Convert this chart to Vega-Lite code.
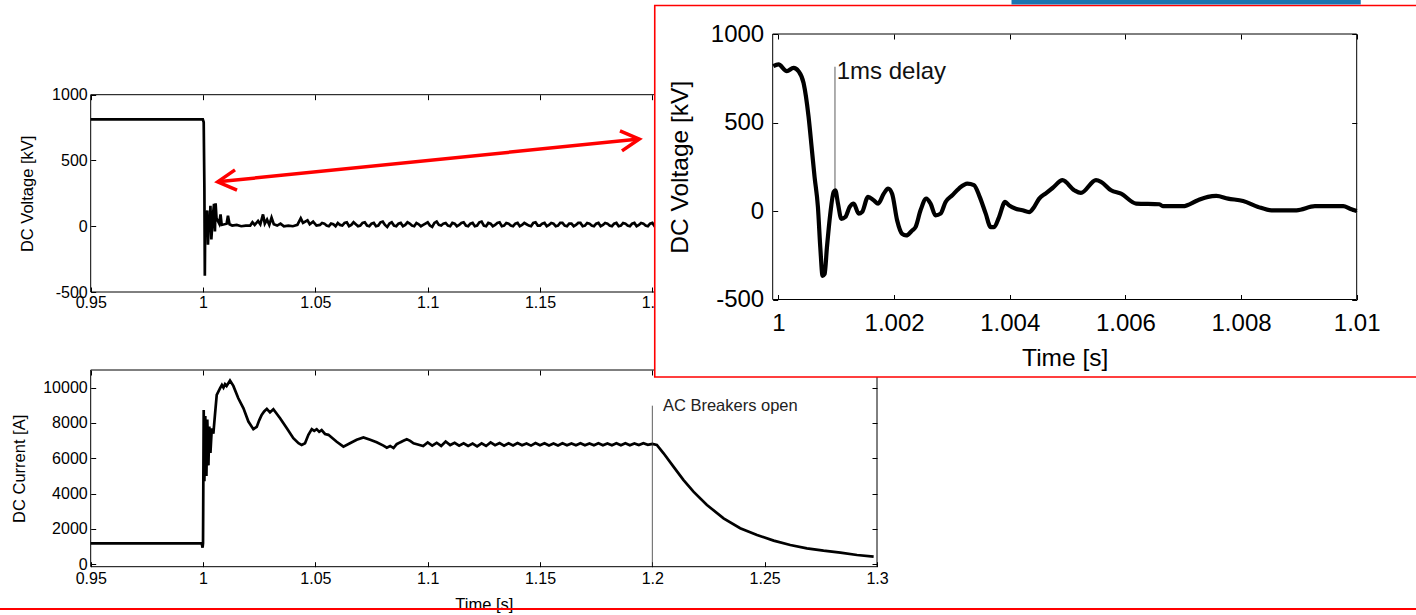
{
  "$schema": "https://vega.github.io/schema/vega-lite/v6.json",
  "width": 1416,
  "height": 615,
  "padding": 0,
  "autosize": {"type": "none"},
  "background": "white",
  "config": {
    "view": {"stroke": null},
    "axis": {
      "labelFont": "Liberation Sans",
      "titleFont": "Liberation Sans",
      "labelColor": "black",
      "titleColor": "black",
      "tickColor": "black",
      "titleFontWeight": "normal",
      "grid": false,
      "domain": false,
      "labelOverlap": false,
      "labelFlush": false,
      "tickSize": -5,
      "tickWidth": 1
    },
    "text": {"font": "Liberation Sans"}
  },
  "datasets": {
    "voltage": [
      {"t": 0.95, "v": 812}, {"t": 0.9999, "v": 812}, {"t": 1.0003, "v": 790}, {"t": 1.0006, "v": 300},
      {"t": 1.0008, "v": -376}, {"t": 1.001, "v": 110}, {"t": 1.0013, "v": -40}, {"t": 1.0016, "v": 80},
      {"t": 1.0019, "v": 120}, {"t": 1.0022, "v": -140}, {"t": 1.0026, "v": 60}, {"t": 1.0029, "v": -30},
      {"t": 1.0033, "v": 155}, {"t": 1.0037, "v": -100}, {"t": 1.0041, "v": 10}, {"t": 1.0045, "v": 100},
      {"t": 1.0049, "v": 170}, {"t": 1.0053, "v": -40}, {"t": 1.0056, "v": 175}, {"t": 1.006, "v": 60},
      {"t": 1.0066, "v": 40}, {"t": 1.0072, "v": 20}, {"t": 1.0078, "v": 90}, {"t": 1.0083, "v": 10},
      {"t": 1.0095, "v": 15}, {"t": 1.0105, "v": 20}, {"t": 1.0111, "v": 80}, {"t": 1.0118, "v": 15},
      {"t": 1.013, "v": 5}, {"t": 1.015, "v": 10}, {"t": 1.017, "v": 0}, {"t": 1.019, "v": 5},
      {"t": 1.021, "v": 5}, {"t": 1.022, "v": 30}, {"t": 1.023, "v": 10}, {"t": 1.0245, "v": 40},
      {"t": 1.0255, "v": 15}, {"t": 1.0267, "v": 90}, {"t": 1.0275, "v": 20}, {"t": 1.0285, "v": 50},
      {"t": 1.0295, "v": 10}, {"t": 1.0305, "v": 65}, {"t": 1.0315, "v": 15}, {"t": 1.033, "v": 5},
      {"t": 1.0345, "v": 20}, {"t": 1.036, "v": 0}, {"t": 1.038, "v": 5}, {"t": 1.04, "v": 0},
      {"t": 1.042, "v": 10}, {"t": 1.0435, "v": 60}, {"t": 1.0445, "v": 25}, {"t": 1.0465, "v": 45},
      {"t": 1.0475, "v": 15}, {"t": 1.049, "v": 35}, {"t": 1.0505, "v": 5},
      {"t": 1.052, "v": 10}, {"t": 1.053, "v": 25}, {"t": 1.054, "v": 20}, {"t": 1.055, "v": 5}, {"t": 1.056, "v": 0}, {"t": 1.057, "v": 20}, {"t": 1.058, "v": 15},
      {"t": 1.059, "v": 0}, {"t": 1.06, "v": 25}, {"t": 1.061, "v": 10}, {"t": 1.062, "v": 5}, {"t": 1.063, "v": 25}, {"t": 1.064, "v": 30}, {"t": 1.065, "v": 0}, {"t": 1.066, "v": 10},
      {"t": 1.067, "v": 30}, {"t": 1.068, "v": 15}, {"t": 1.069, "v": 0}, {"t": 1.07, "v": 5}, {"t": 1.071, "v": 25}, {"t": 1.072, "v": 30}, {"t": 1.073, "v": 5}, {"t": 1.074, "v": 0},
      {"t": 1.075, "v": 20}, {"t": 1.076, "v": 25}, {"t": 1.077, "v": 0}, {"t": 1.078, "v": 5}, {"t": 1.079, "v": 30}, {"t": 1.08, "v": 35}, {"t": 1.081, "v": 10}, {"t": 1.082, "v": -5},
      {"t": 1.083, "v": 20}, {"t": 1.084, "v": 30}, {"t": 1.085, "v": 5}, {"t": 1.086, "v": 0}, {"t": 1.087, "v": 20}, {"t": 1.088, "v": 25}, {"t": 1.089, "v": 0}, {"t": 1.09, "v": 10},
      {"t": 1.091, "v": 30}, {"t": 1.092, "v": 20}, {"t": 1.093, "v": 5}, {"t": 1.094, "v": 0}, {"t": 1.095, "v": 25}, {"t": 1.096, "v": 15}, {"t": 1.097, "v": 0}, {"t": 1.098, "v": 10},
      {"t": 1.099, "v": 20}, {"t": 1.1, "v": 30}, {"t": 1.101, "v": 5}, {"t": 1.102, "v": -5}, {"t": 1.103, "v": 25}, {"t": 1.104, "v": 35}, {"t": 1.105, "v": 10}, {"t": 1.106, "v": 5},
      {"t": 1.107, "v": 20}, {"t": 1.108, "v": 25}, {"t": 1.109, "v": 5}, {"t": 1.11, "v": 0}, {"t": 1.111, "v": 25}, {"t": 1.112, "v": 20}, {"t": 1.113, "v": 0}, {"t": 1.114, "v": 10},
      {"t": 1.115, "v": 25}, {"t": 1.116, "v": 30}, {"t": 1.117, "v": 5}, {"t": 1.118, "v": 0}, {"t": 1.119, "v": 20}, {"t": 1.12, "v": 25}, {"t": 1.121, "v": 0}, {"t": 1.122, "v": 5},
      {"t": 1.123, "v": 30}, {"t": 1.124, "v": 35}, {"t": 1.125, "v": 5}, {"t": 1.126, "v": 0}, {"t": 1.127, "v": 25}, {"t": 1.128, "v": 20}, {"t": 1.129, "v": 0}, {"t": 1.13, "v": 10},
      {"t": 1.131, "v": 25}, {"t": 1.132, "v": 30}, {"t": 1.133, "v": 0}, {"t": 1.134, "v": 5}, {"t": 1.135, "v": 25}, {"t": 1.136, "v": 20}, {"t": 1.137, "v": 5}, {"t": 1.138, "v": 0},
      {"t": 1.139, "v": 20}, {"t": 1.14, "v": 25}, {"t": 1.141, "v": 0}, {"t": 1.142, "v": 10}, {"t": 1.143, "v": 25}, {"t": 1.144, "v": 15}, {"t": 1.145, "v": 5}, {"t": 1.146, "v": 0},
      {"t": 1.147, "v": 25}, {"t": 1.148, "v": 30}, {"t": 1.149, "v": 5}, {"t": 1.15, "v": 5}, {"t": 1.151, "v": 20}, {"t": 1.152, "v": 25}, {"t": 1.153, "v": 0}, {"t": 1.154, "v": 10},
      {"t": 1.155, "v": 25}, {"t": 1.156, "v": 20}, {"t": 1.157, "v": 0}, {"t": 1.158, "v": 5}, {"t": 1.159, "v": 25}, {"t": 1.16, "v": 25}, {"t": 1.161, "v": 5}, {"t": 1.162, "v": 0},
      {"t": 1.163, "v": 20}, {"t": 1.164, "v": 20}, {"t": 1.165, "v": 0}, {"t": 1.166, "v": 10}, {"t": 1.167, "v": 25}, {"t": 1.168, "v": 25}, {"t": 1.169, "v": 0}, {"t": 1.17, "v": 5},
      {"t": 1.171, "v": 25}, {"t": 1.172, "v": 20}, {"t": 1.173, "v": 5}, {"t": 1.174, "v": 0}, {"t": 1.175, "v": 20}, {"t": 1.176, "v": 25}, {"t": 1.177, "v": 0}, {"t": 1.178, "v": 10},
      {"t": 1.179, "v": 25}, {"t": 1.18, "v": 20}, {"t": 1.181, "v": 5}, {"t": 1.182, "v": 0}, {"t": 1.183, "v": 20}, {"t": 1.184, "v": 25}, {"t": 1.185, "v": 0}, {"t": 1.186, "v": 5},
      {"t": 1.187, "v": 25}, {"t": 1.188, "v": 20}, {"t": 1.189, "v": 5}, {"t": 1.19, "v": 0}, {"t": 1.191, "v": 20}, {"t": 1.192, "v": 25}, {"t": 1.193, "v": 0}, {"t": 1.194, "v": 10},
      {"t": 1.195, "v": 25}, {"t": 1.196, "v": 20}, {"t": 1.197, "v": 5}, {"t": 1.198, "v": 0}, {"t": 1.199, "v": 20}, {"t": 1.2, "v": 25}, {"t": 1.201, "v": 0}, {"t": 1.202, "v": 5},
      {"t": 1.204, "v": 20}, {"t": 1.206, "v": 10}
    ],
    "current": [
      {"t": 0.95, "i": 1190}, {"t": 0.9994, "i": 1190}, {"t": 0.9998, "i": 940}, {"t": 1.0, "i": 1200},
      {"t": 1.0003, "i": 8740}, {"t": 1.0006, "i": 4700}, {"t": 1.001, "i": 8400}, {"t": 1.0015, "i": 5000},
      {"t": 1.0019, "i": 8200}, {"t": 1.0024, "i": 5600}, {"t": 1.0028, "i": 7800}, {"t": 1.0033, "i": 6300},
      {"t": 1.0039, "i": 7700}, {"t": 1.0046, "i": 7400}, {"t": 1.0053, "i": 8450}, {"t": 1.0061, "i": 9590},
      {"t": 1.0076, "i": 9970}, {"t": 1.0084, "i": 10150}, {"t": 1.0091, "i": 10000}, {"t": 1.0098, "i": 10200}, {"t": 1.0105, "i": 10100}, {"t": 1.012, "i": 10400},
      {"t": 1.0135, "i": 10100}, {"t": 1.0157, "i": 9400}, {"t": 1.018, "i": 8830}, {"t": 1.0202, "i": 8080},
      {"t": 1.0224, "i": 7650}, {"t": 1.0239, "i": 7780}, {"t": 1.025, "i": 8150}, {"t": 1.0261, "i": 8460}, {"t": 1.0272, "i": 8650}, {"t": 1.0284, "i": 8800}, {"t": 1.0298, "i": 8600},
      {"t": 1.0313, "i": 8780}, {"t": 1.0343, "i": 8270}, {"t": 1.0373, "i": 7700}, {"t": 1.0402, "i": 7140},
      {"t": 1.0425, "i": 6855}, {"t": 1.0439, "i": 6760}, {"t": 1.0454, "i": 6850}, {"t": 1.0469, "i": 7330},
      {"t": 1.0484, "i": 7650}, {"t": 1.0495, "i": 7550}, {"t": 1.0506, "i": 7650}, {"t": 1.0517, "i": 7500}, {"t": 1.0528, "i": 7600}, {"t": 1.0543, "i": 7380}, {"t": 1.0558, "i": 7330},
      {"t": 1.0595, "i": 6940}, {"t": 1.0625, "i": 6660}, {"t": 1.0654, "i": 6850}, {"t": 1.0684, "i": 7050},
      {"t": 1.0714, "i": 7180}, {"t": 1.0744, "i": 7050}, {"t": 1.0773, "i": 6910}, {"t": 1.0803, "i": 6720},
      {"t": 1.0818, "i": 6600}, {"t": 1.0833, "i": 6700}, {"t": 1.0848, "i": 6580}, {"t": 1.0862, "i": 6800},
      {"t": 1.0877, "i": 6900}, {"t": 1.0892, "i": 6990}, {"t": 1.0907, "i": 7080}, {"t": 1.0922, "i": 6990},
      {"t": 1.0937, "i": 6850}, {"t": 1.0952, "i": 6800},
      {"t": 1.098, "i": 6700}, {"t": 1.1, "i": 6900}, {"t": 1.102, "i": 6720}, {"t": 1.104, "i": 6880},
      {"t": 1.106, "i": 6700}, {"t": 1.108, "i": 6950}, {"t": 1.11, "i": 6750}, {"t": 1.112, "i": 6880},
      {"t": 1.114, "i": 6720}, {"t": 1.116, "i": 6850}, {"t": 1.118, "i": 6700}, {"t": 1.12, "i": 6830},
      {"t": 1.122, "i": 6680}, {"t": 1.124, "i": 6850}, {"t": 1.126, "i": 6700}, {"t": 1.128, "i": 6900},
      {"t": 1.13, "i": 6740}, {"t": 1.132, "i": 6860}, {"t": 1.134, "i": 6720}, {"t": 1.136, "i": 6850},
      {"t": 1.138, "i": 6730}, {"t": 1.14, "i": 6870}, {"t": 1.142, "i": 6740}, {"t": 1.144, "i": 6840},
      {"t": 1.146, "i": 6720}, {"t": 1.148, "i": 6860}, {"t": 1.15, "i": 6740}, {"t": 1.152, "i": 6850},
      {"t": 1.154, "i": 6730}, {"t": 1.156, "i": 6840}, {"t": 1.158, "i": 6730}, {"t": 1.16, "i": 6850},
      {"t": 1.162, "i": 6740}, {"t": 1.164, "i": 6840}, {"t": 1.166, "i": 6740}, {"t": 1.168, "i": 6850},
      {"t": 1.17, "i": 6740}, {"t": 1.172, "i": 6840}, {"t": 1.174, "i": 6740}, {"t": 1.176, "i": 6850},
      {"t": 1.178, "i": 6740}, {"t": 1.18, "i": 6840}, {"t": 1.182, "i": 6740}, {"t": 1.184, "i": 6850},
      {"t": 1.186, "i": 6740}, {"t": 1.188, "i": 6850}, {"t": 1.19, "i": 6740}, {"t": 1.192, "i": 6840},
      {"t": 1.194, "i": 6750}, {"t": 1.196, "i": 6850}, {"t": 1.198, "i": 6760}, {"t": 1.2, "i": 6820},
      {"t": 1.202, "i": 6760}, {"t": 1.205, "i": 6285}, {"t": 1.2094, "i": 5530}, {"t": 1.2139, "i": 4770},
      {"t": 1.2183, "i": 4110}, {"t": 1.2243, "i": 3360}, {"t": 1.2317, "i": 2600}, {"t": 1.2391, "i": 2040},
      {"t": 1.2466, "i": 1660}, {"t": 1.254, "i": 1340}, {"t": 1.2614, "i": 1090}, {"t": 1.2688, "i": 905},
      {"t": 1.2762, "i": 770}, {"t": 1.2837, "i": 660}, {"t": 1.2911, "i": 527}, {"t": 1.2985, "i": 430}
    ],
    "zoom": [
      {"t": 0.99991, "v": 818}, {"t": 1.0, "v": 828}, {"t": 1.000145, "v": 790}, {"t": 1.00026, "v": 809},
      {"t": 1.000347, "v": 790}, {"t": 1.000434, "v": 723}, {"t": 1.00052, "v": 534}, {"t": 1.000578, "v": 345},
      {"t": 1.000624, "v": 193}, {"t": 1.000682, "v": 23}, {"t": 1.000723, "v": -205}, {"t": 1.000763, "v": -366},
      {"t": 1.000798, "v": -356}, {"t": 1.000838, "v": -205}, {"t": 1.000896, "v": -15}, {"t": 1.000954, "v": 108},
      {"t": 1.000983, "v": 117}, {"t": 1.001029, "v": 42}, {"t": 1.001087, "v": -44}, {"t": 1.001156, "v": -34},
      {"t": 1.001231, "v": 23}, {"t": 1.001301, "v": 42}, {"t": 1.001387, "v": -15}, {"t": 1.001445, "v": -6},
      {"t": 1.001549, "v": 80}, {"t": 1.001647, "v": 61}, {"t": 1.001723, "v": 42}, {"t": 1.001821, "v": 98},
      {"t": 1.001896, "v": 127}, {"t": 1.001965, "v": 98}, {"t": 1.002052, "v": -53}, {"t": 1.002139, "v": -129},
      {"t": 1.002208, "v": -138}, {"t": 1.002312, "v": -110}, {"t": 1.00237, "v": -91}, {"t": 1.002457, "v": 4},
      {"t": 1.002555, "v": 70}, {"t": 1.00263, "v": 42}, {"t": 1.002717, "v": -25}, {"t": 1.002803, "v": -15},
      {"t": 1.00289, "v": 51}, {"t": 1.003006, "v": 89}, {"t": 1.003121, "v": 127}, {"t": 1.003266, "v": 155},
      {"t": 1.00338, "v": 146}, {"t": 1.00348, "v": 80}, {"t": 1.003584, "v": -15}, {"t": 1.00367, "v": -91},
      {"t": 1.003728, "v": -91}, {"t": 1.003815, "v": -34}, {"t": 1.003919, "v": 51}, {"t": 1.003988, "v": 32},
      {"t": 1.004104, "v": 13}, {"t": 1.00422, "v": 4}, {"t": 1.004335, "v": -6}, {"t": 1.004422, "v": 23},
      {"t": 1.004509, "v": 70}, {"t": 1.004624, "v": 100}, {"t": 1.00474, "v": 130}, {"t": 1.004913, "v": 174},
      {"t": 1.005116, "v": 117}, {"t": 1.005231, "v": 102}, {"t": 1.005491, "v": 174}, {"t": 1.005578, "v": 165},
      {"t": 1.005751, "v": 117}, {"t": 1.005925, "v": 98}, {"t": 1.006185, "v": 42}, {"t": 1.00659, "v": 38},
      {"t": 1.006647, "v": 27}, {"t": 1.006994, "v": 27}, {"t": 1.007254, "v": 61}, {"t": 1.007428, "v": 80},
      {"t": 1.007572, "v": 85}, {"t": 1.007775, "v": 70}, {"t": 1.008035, "v": 57}, {"t": 1.008295, "v": 23},
      {"t": 1.008526, "v": 4}, {"t": 1.00896, "v": 4}, {"t": 1.009277, "v": 27}, {"t": 1.009769, "v": 27},
      {"t": 1.009884, "v": 13}, {"t": 1.01, "v": 0}
    ]
  },
  "layer": [
    {
      "layer": [
        {
          "data": {"name": "current"},
          "mark": {"type": "line", "color": "black", "strokeWidth": 2.7},
          "encoding": {
            "x": {"field": "t", "type": "quantitative",
              "scale": {"domain": [0.95, 1.3], "range": [90.7, 877], "nice": false, "zero": false},
              "axis": {"orient": "bottom", "offset": -48.3, "values": [0.95, 1, 1.05, 1.1, 1.15, 1.2, 1.25, 1.3],
                "labelExpr": "'' + datum.value", "labelFontSize": 16, "labelPadding": 9,
                "title": "Time [s]", "titleFontSize": 16.5, "titlePadding": 10, "zindex": 0}},
            "y": {"field": "i", "type": "quantitative",
              "scale": {"domain": [-136, 11000], "range": [566.7, 370], "nice": false, "zero": false},
              "axis": {"orient": "left", "offset": -90.7, "values": [0, 2000, 4000, 6000, 8000, 10000],
                "labelExpr": "'' + datum.value", "labelFontSize": 16, "labelPadding": 8.5,
                "title": "DC Current [A]", "titleFontSize": 16.5, "titlePadding": 15, "zindex": 0}}
          }
        },
        {
          "data": {"values": [{"t": 1.2, "i": -136, "i2": 8980}]},
          "mark": {"type": "rule", "color": "#333", "strokeWidth": 0.8},
          "encoding": {
            "x": {"field": "t", "type": "quantitative"},
            "y": {"field": "i", "type": "quantitative"},
            "y2": {"field": "i2"}
          }
        },
        {
          "data": {"values": [{"t": 1.2047, "i": 8680, "label": "AC Breakers open"}]},
          "mark": {"type": "text", "align": "left", "baseline": "alphabetic", "fontSize": 16.5, "color": "#222"},
          "encoding": {
            "x": {"field": "t", "type": "quantitative"},
            "y": {"field": "i", "type": "quantitative"},
            "text": {"field": "label"}
          }
        },
        {
          "data": {"values": [{"t": 0.9, "t2": 1.56, "i": -2531}]},
          "mark": {"type": "rule", "color": "#ff0000", "strokeWidth": 2},
          "encoding": {
            "x": {"field": "t", "type": "quantitative"},
            "x2": {"field": "t2"},
            "y": {"field": "i", "type": "quantitative"}
          }
        }
      ]
    },
    {
      "data": {"values": [{"t": 0.95, "t2": 1.3, "i": -136, "i2": 11000}]},
      "mark": {"type": "rect", "fill": "transparent", "stroke": "black", "strokeWidth": 1},
      "encoding": {
        "x": {"field": "t", "type": "quantitative",
          "scale": {"domain": [0.95, 1.3], "range": [90.7, 877], "nice": false, "zero": false},
          "axis": {"orient": "top", "offset": -370, "values": [0.95, 1, 1.05, 1.1, 1.15, 1.2, 1.25, 1.3],
            "labels": false, "title": null, "zindex": 0}},
        "x2": {"field": "t2"},
        "y": {"field": "i", "type": "quantitative",
          "scale": {"domain": [-136, 11000], "range": [566.7, 370], "nice": false, "zero": false},
          "axis": {"orient": "right", "offset": -539, "values": [0, 2000, 4000, 6000, 8000, 10000],
            "labels": false, "title": null, "zindex": 0}},
        "y2": {"field": "i2"}
      }
    },
    {
      "layer": [
        {
          "data": {"name": "voltage"},
          "mark": {"type": "line", "color": "black", "strokeWidth": 2.7},
          "encoding": {
            "x": {"field": "t", "type": "quantitative",
              "scale": {"domain": [0.95, 1.3], "range": [90.7, 877], "nice": false, "zero": false},
              "axis": {"orient": "bottom", "offset": -323, "values": [0.95, 1, 1.05, 1.1, 1.15, 1.2, 1.25, 1.3],
                "labelExpr": "'' + datum.value", "labelFontSize": 16, "labelPadding": 7,
                "title": null, "zindex": 0}},
            "y": {"field": "v", "type": "quantitative",
              "scale": {"domain": [-500, 1000], "range": [292, 94.7], "nice": false, "zero": false},
              "axis": {"orient": "left", "offset": -90.7, "values": [-500, 0, 500, 1000],
                "labelExpr": "'' + datum.value", "labelFontSize": 16, "labelPadding": 8.5,
                "title": "DC Voltage [kV]", "titleFontSize": 16.5, "titlePadding": 16.5, "zindex": 0}}
          }
        },
        {
          "data": {"values": [{"t": 1.00653, "v": 338, "t2": 1.19419, "v2": 663}]},
          "layer": [
            {
              "mark": {"type": "rule", "color": "#ff0000", "strokeWidth": 3.5},
              "encoding": {
                "x": {"field": "t", "type": "quantitative"},
                "y": {"field": "v", "type": "quantitative"},
                "x2": {"field": "t2"},
                "y2": {"field": "v2"}
              }
            },
            {
              "mark": {"type": "point", "shape": "M-1,-0.55L0,0L-1,0.55", "filled": false, "color": "#ff0000",
                "strokeWidth": 3.5, "size": 1355, "angle": 174.3, "opacity": 1},
              "encoding": {
                "x": {"field": "t", "type": "quantitative"},
                "y": {"field": "v", "type": "quantitative"}
              }
            },
            {
              "mark": {"type": "point", "shape": "M-1,-0.55L0,0L-1,0.55", "filled": false, "color": "#ff0000",
                "strokeWidth": 3.5, "size": 1355, "angle": -5.7, "opacity": 1},
              "encoding": {
                "x": {"field": "t2", "type": "quantitative"},
                "y": {"field": "v2", "type": "quantitative"}
              }
            }
          ]
        }
      ]
    },
    {
      "data": {"values": [{"t": 0.95, "t2": 1.3, "v": -500, "v2": 1000}]},
      "mark": {"type": "rect", "fill": "transparent", "stroke": "black", "strokeWidth": 1},
      "encoding": {
        "x": {"field": "t", "type": "quantitative",
          "scale": {"domain": [0.95, 1.3], "range": [90.7, 877], "nice": false, "zero": false},
          "axis": {"orient": "top", "offset": -94.7, "values": [0.95, 1, 1.05, 1.1, 1.15, 1.2, 1.25, 1.3],
            "labels": false, "title": null, "zindex": 0}},
        "x2": {"field": "t2"},
        "y": {"field": "v", "type": "quantitative",
          "scale": {"domain": [-500, 1000], "range": [292, 94.7], "nice": false, "zero": false},
          "axis": {"orient": "right", "offset": -539, "values": [-500, 0, 500, 1000],
            "labels": false, "title": null, "zindex": 0}},
        "y2": {"field": "v2"}
      }
    },
    {
      "layer": [
        {
          "data": {"values": [{"t": 0.99786, "t2": 1.01105, "v": -938, "v2": 1161}]},
          "mark": {"type": "rect", "fill": "white", "stroke": "#ff0000", "strokeWidth": 1.6},
          "encoding": {
            "x": {"field": "t", "type": "quantitative",
              "scale": {"domain": [0.9999, 1.01], "range": [772.7, 1356.7], "nice": false, "zero": false},
              "axis": {"orient": "bottom", "offset": -315.5, "values": [1, 1.002, 1.004, 1.006, 1.008, 1.01],
                "labelExpr": "'' + datum.value", "labelFontSize": 24, "labelPadding": 17,
                "title": "Time [s]", "titleFontSize": 24.5, "titlePadding": 11, "zindex": 1}},
            "x2": {"field": "t2"},
            "y": {"field": "v", "type": "quantitative",
              "scale": {"domain": [-500, 1000], "range": [299.5, 34], "nice": false, "zero": false},
              "axis": {"orient": "left", "offset": -772.7, "values": [-500, 0, 500, 1000],
                "labelExpr": "'' + datum.value", "labelFontSize": 24, "labelPadding": 14,
                "title": "DC Voltage [kV]", "titleFontSize": 24.5, "titlePadding": 18, "zindex": 1}},
            "y2": {"field": "v2"}
          }
        },
        {
          "data": {"values": [{"t": 1.00403, "t2": 1.01007, "v": 1167, "v2": 1200}]},
          "mark": {"type": "rect", "fill": "#1a75b0"},
          "encoding": {
            "x": {"field": "t", "type": "quantitative"},
            "x2": {"field": "t2"},
            "y": {"field": "v", "type": "quantitative"},
            "y2": {"field": "v2"}
          }
        },
        {
          "data": {"values": [{"t": 1.000977, "v": 118, "v2": 815}]},
          "mark": {"type": "rule", "color": "#333", "strokeWidth": 0.8},
          "encoding": {
            "x": {"field": "t", "type": "quantitative"},
            "y": {"field": "v", "type": "quantitative"},
            "y2": {"field": "v2"}
          }
        },
        {
          "data": {"name": "zoom"},
          "mark": {"type": "line", "color": "black", "strokeWidth": 4.2, "interpolate": "monotone"},
          "encoding": {
            "x": {"field": "t", "type": "quantitative"},
            "y": {"field": "v", "type": "quantitative"}
          }
        },
        {
          "data": {"values": [{"t": 1.001007, "v": 746, "label": "1ms delay"}]},
          "mark": {"type": "text", "align": "left", "baseline": "alphabetic", "fontSize": 24, "color": "#111"},
          "encoding": {
            "x": {"field": "t", "type": "quantitative"},
            "y": {"field": "v", "type": "quantitative"},
            "text": {"field": "label"}
          }
        }
      ]
    },
    {
      "data": {"values": [{"t": 0.9999, "t2": 1.01, "v": -500, "v2": 1000}]},
      "mark": {"type": "rect", "fill": "transparent", "stroke": "black", "strokeWidth": 1},
      "encoding": {
        "x": {"field": "t", "type": "quantitative",
          "scale": {"domain": [0.9999, 1.01], "range": [772.7, 1356.7], "nice": false, "zero": false},
          "axis": {"orient": "top", "offset": -34, "values": [1, 1.002, 1.004, 1.006, 1.008, 1.01],
            "labels": false, "title": null, "zindex": 1}},
        "x2": {"field": "t2"},
        "y": {"field": "v", "type": "quantitative",
          "scale": {"domain": [-500, 1000], "range": [299.5, 34], "nice": false, "zero": false},
          "axis": {"orient": "right", "offset": -59.3, "values": [-500, 0, 500, 1000],
            "labels": false, "title": null, "zindex": 1}},
        "y2": {"field": "v2"}
      }
    }
  ],
  "resolve": {
    "scale": {"x": "independent", "y": "independent"},
    "axis": {"x": "independent", "y": "independent"}
  }
}
